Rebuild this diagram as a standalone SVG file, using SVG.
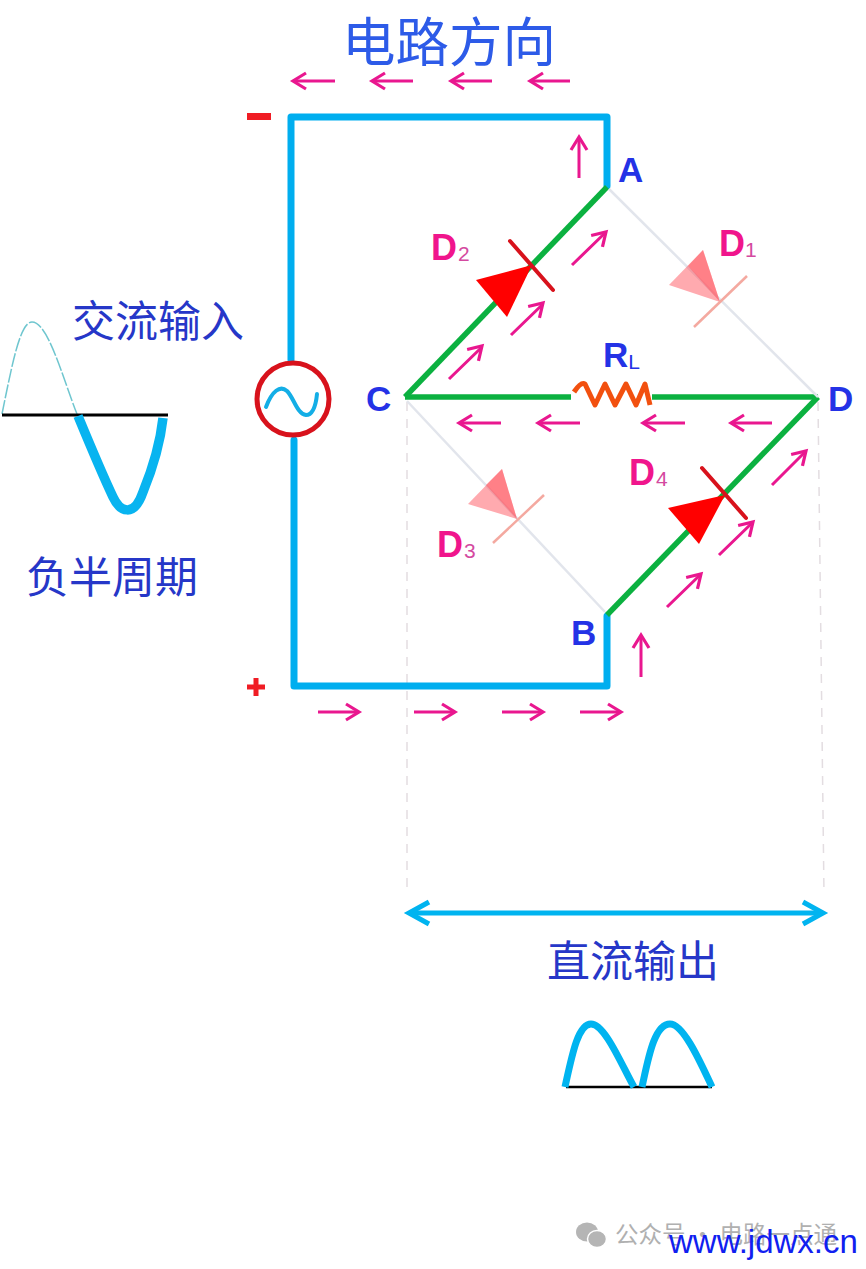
<svg xmlns="http://www.w3.org/2000/svg" width="866" height="1269" viewBox="0 0 866 1269">
<style>
.w{fill:none;stroke:#00aeef;stroke-width:7;stroke-linejoin:round;stroke-linecap:round}
.g{fill:none;stroke:#0bb140;stroke-width:5.5;stroke-linecap:butt;stroke-linejoin:round}
.off{fill:none;stroke:#e2e5ec;stroke-width:2.5}
.guide{fill:none;stroke:#e3dde1;stroke-width:1.5;stroke-dasharray:9 8}
.fl2{fill:none;stroke:#e9178f;stroke-width:3}
.on{fill:#ff0000}
.onb{stroke:#d8121c;stroke-width:4;fill:none;stroke-linecap:round}
.ofd{fill:#ff5560;fill-opacity:.5}
.ofb{stroke:#f4a9a0;stroke-width:2.5;fill:none}
.lab{font-family:"Liberation Sans",Arial,sans-serif;font-weight:700;fill:#2432e6;font-size:35px}
.dl{font-family:"Liberation Sans",Arial,sans-serif;font-weight:700;fill:#f0158c;font-size:36px}
.ds{font-family:"Liberation Sans",Arial,sans-serif;fill:#d44aa0;font-size:21px}
.cn{font-family:"Noto Sans CJK SC",sans-serif;fill:#2637c8;font-size:43px}
</style>
<defs>
<path id="ah" d="M-13,-8 L0,0 L-13,8" fill="none" stroke="#e9178f" stroke-width="3.2"/>
</defs>
<g id="guides">
<path class="guide" d="M407,402V895"/>
<path class="guide" d="M818,402L824,895"/>
</g>
<g id="connectors">
<path class="w" d="M291,360V117H607V186"/>
<path class="w" d="M294,440V686H607V616"/>
<path class="g" d="M607,187L405,397"/>
<path class="g" d="M818,397L607,615"/>
<path class="g" d="M405,397H571"/>
<path class="g" d="M652,397H818"/>
<path class="off" d="M609,189L818,397"/>
<path class="off" d="M407,401L605,612"/>
</g>
<g id="source">
<circle cx="293" cy="399" r="36" fill="#fff" stroke="#d8121c" stroke-width="5"/>
<path d="M266,407C272,391 280,385 287,391C294,398 297,414 306,415C313,415 316,404 317,394" fill="none" stroke="#14aee6" stroke-width="4" stroke-linecap="round"/>
</g>
<g id="D1"><path class="ofd" d="M720,302L703,250L669,285Z"/><path class="ofd" d="M720,302L688,266L703,250Z"/><path class="ofb" d="M747,276L694,327"/></g>
<g id="D2"><path class="on" d="M532,265L476,280L507,317Z"/><path class="onb" d="M510,241L553,290"/></g>
<g id="D3"><path class="ofd" d="M517,519L502,469L468,504Z"/><path class="ofd" d="M517,519L486,485L502,469Z"/><path class="ofb" d="M544,495L493,543"/></g>
<g id="D4"><path class="on" d="M725,495L668,508L699,544Z"/><path class="onb" d="M702,468L746,518"/></g>
<g id="RL"><path d="M574,392C578,386 582,382 585,384L595,405L605,384L615,405L626,384L636,405L645,384L650,405" fill="none" stroke="#f2500f" stroke-width="5" stroke-linejoin="round"/></g>
<g id="flow">
<path class="fl2" d="M335,81H294M413,81H373M492,81H452M570,81H531M579,178V138M501,423H460M580,423H539M685,423H644M772,423H732M641,677V636M318,712H358M414,712H454M502,712H542M580,712H620M572,265L605,233M511,335L543,304M449,379L482,347M772,485L805,452M719,555L752,523M667,607L700,575"/>
<use href="#ah" transform="translate(293,81) rotate(180)"/>
<use href="#ah" transform="translate(372,81) rotate(180)"/>
<use href="#ah" transform="translate(451,81) rotate(180)"/>
<use href="#ah" transform="translate(530,81) rotate(180)"/>
<use href="#ah" transform="translate(579,137) rotate(-90)"/>
<use href="#ah" transform="translate(606,232) rotate(-45)"/>
<use href="#ah" transform="translate(543,303) rotate(-45)"/>
<use href="#ah" transform="translate(482,346) rotate(-45)"/>
<use href="#ah" transform="translate(459,423) rotate(180)"/>
<use href="#ah" transform="translate(538,423) rotate(180)"/>
<use href="#ah" transform="translate(643,423) rotate(180)"/>
<use href="#ah" transform="translate(731,423) rotate(180)"/>
<use href="#ah" transform="translate(806,451) rotate(-45)"/>
<use href="#ah" transform="translate(753,522) rotate(-45)"/>
<use href="#ah" transform="translate(701,574) rotate(-45)"/>
<use href="#ah" transform="translate(641,635) rotate(-90)"/>
<use href="#ah" transform="translate(359,712)"/>
<use href="#ah" transform="translate(455,712)"/>
<use href="#ah" transform="translate(543,712)"/>
<use href="#ah" transform="translate(621,712)"/>
</g>
<g id="labels">
<text class="cn" x="342" y="62" style="font-size:53.5px;fill:#2d5be8">电路方向</text>
<text class="cn" x="72" y="337">交流输入</text>
<text class="cn" x="26" y="593">负半周期</text>
<text class="cn" x="547" y="977">直流输出</text>
<text class="lab" x="618" y="182">A</text>
<text class="lab" x="571" y="645">B</text>
<text class="lab" x="366" y="411">C</text>
<text class="lab" x="828" y="411">D</text>
<text class="lab" x="603" y="367">R<tspan style="font-size:21px;font-weight:400" dy="2">L</tspan></text>
<text class="dl" x="431" y="260">D</text><text class="ds" x="458" y="261">2</text>
<text class="dl" x="719" y="256">D</text><text class="ds" x="745" y="257">1</text>
<text class="dl" x="437" y="557">D</text><text class="ds" x="464" y="558">3</text>
<text class="dl" x="629" y="485">D</text><text class="ds" x="656" y="486">4</text>
<rect x="247" y="113" width="24" height="7" fill="#f01c24"/>
<path d="M247,687H265M256,678V696" stroke="#f01c24" stroke-width="5" fill="none"/>
</g>
<g id="input-wave">
<path d="M2,414C12,365 20,322 32,322C48,322 62,376 77,414" fill="none" stroke="#6fc6cf" stroke-width="1.5" stroke-dasharray="14 2"/>
<path d="M2,415H168" stroke="#000" stroke-width="3"/>
<path d="M78,416C90,445 104,478 113,497C120,512 134,518 143,492C152,470 160,445 163,418" fill="none" stroke="#08b4f0" stroke-width="9.5"/>
</g>
<g id="output-span">
<path d="M410,913H820" stroke="#00b4f0" stroke-width="5" fill="none"/>
<path d="M429,902L409,913L429,924M803,902L823,913L803,924" stroke="#00b4f0" stroke-width="5" fill="none"/>
</g>
<g id="output-wave">
<path d="M566,1087H712" stroke="#000" stroke-width="2.5"/>
<path d="M565,1087C572,1055 578,1024 591,1024C605,1024 622,1066 634,1087M642,1087C648,1060 654,1024 670,1024C684,1024 702,1066 712,1087" fill="none" stroke="#00b4f0" stroke-width="7"/>
</g>
<g id="watermark">
<ellipse cx="587" cy="1232" rx="11" ry="9.5" fill="#b5b5b5"/>
<ellipse cx="597" cy="1239" rx="9.5" ry="8.5" fill="#b5b5b5" stroke="#fff" stroke-width="1.5"/>
<text x="615" y="1243" style="font-family:'Noto Sans CJK SC',sans-serif;font-size:23.5px;fill:#b0b0b0">公众号 · 电路一点通</text>
<text x="669" y="1253" style="font-family:'Liberation Sans',Arial,sans-serif;font-size:33px;fill:#1020f0">www.jdwx.cn</text>
</g>
</svg>
